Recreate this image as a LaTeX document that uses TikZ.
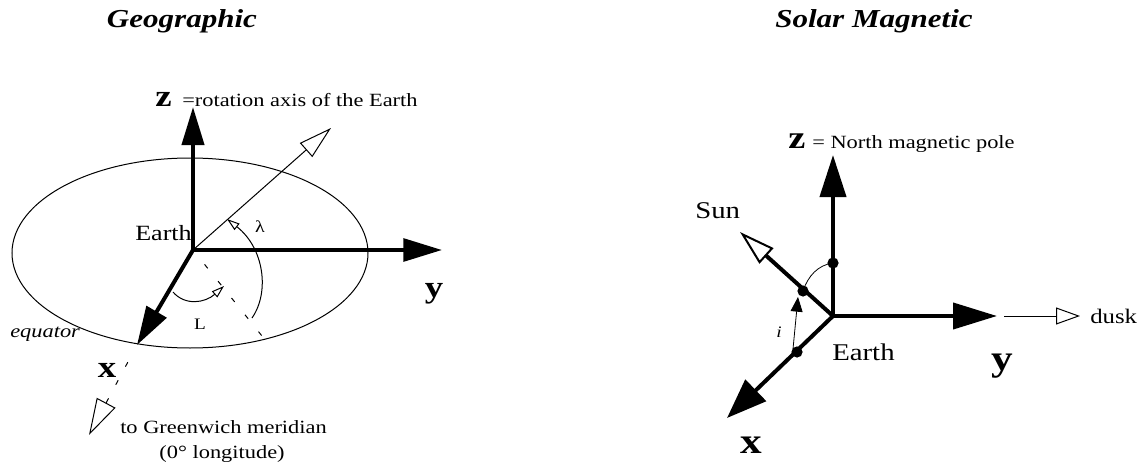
\documentclass[tikz,border=0pt]{standalone}
\usepackage{fontspec}
\setmainfont{Liberation Serif}[FakeStretch=1.2]
\usetikzlibrary{arrows.meta}
\begin{document}
\begin{tikzpicture}[x=0.75pt,y=-0.75pt,
  axisline/.style={line width=3pt},
  thinl/.style={line width=0.75pt},
  hairl/.style={line width=0.6pt},
  txt/.style={inner sep=0pt,font=\fontsize{14}{16}\selectfont},
  bigtxt/.style={inner sep=0pt,font=\fontsize{16.3}{18}\selectfont},
  rtxt/.style={inner sep=0pt,font=\fontsize{18}{20}\selectfont},
  titletxt/.style={inner sep=0pt,font=\fontsize{19.4}{22}\selectfont\bfseries\itshape},
  boldl/.style={inner sep=0pt,font=\fontsize{23}{25}\selectfont\bfseries},
  boldr/.style={inner sep=0pt,font=\fontsize{27}{29}\selectfont\bfseries},
  dotmark/.style={fill=black}
]
\useasboundingbox (0,0) rectangle (1143,467);
\fill[white] (0,0) rectangle (1143,467);

% titles
\node[titletxt,anchor=base] (t1) at (182,28) {Geographic};
\node[titletxt,anchor=base] (t2) at (874,28) {Solar Magnetic};

% ---------- Geographic ----------
\coordinate (O) at (193,250);
\coordinate (zt) at (193,107);
\coordinate (yt) at (442,250);
\coordinate (xt) at (137,345);
\coordinate (lt) at (331,128);
\coordinate (ec) at (190,253);

\draw[thinl] (ec) ellipse [x radius=133.5pt, y radius=71.25pt];
\draw[thinl,-{Triangle[open,length=25pt,width=14pt]}] (O) -- (lt);
\draw[axisline,-{Triangle[length=28.5pt,width=16.5pt]}] (O) -- (zt);
\draw[axisline,-{Triangle[length=29pt,width=17pt]}] (O) -- (yt);
\draw[axisline,-{Triangle[length=29pt,width=17pt]}] (O) -- (xt);

\coordinate (ms) at (204.6,264.4);
\coordinate (me) at (262,336);
\draw[thinl,dash pattern=on 3.75pt off 12.4pt] (ms) -- (me);

\coordinate (la) at (252,318);
\coordinate (lb) at (227,219);
\draw[thinl,-{Triangle[open,length=9.6pt,width=6pt]}] (la) .. controls (270,292) and (264,248) .. (lb);
\coordinate (La) at (173,292);
\coordinate (Lb) at (224,286);
\draw[thinl,-{Triangle[open,length=9.5pt,width=6pt]}] (La) .. controls (185,306) and (205,303) .. (Lb);

\coordinate (gs) at (127.8,362.2);
\coordinate (ge) at (89,435);
\draw[thinl,dash pattern=on 3.75pt off 11.6pt,-{Triangle[open,length=27.4pt,width=15.8pt]}] (gs) -- (ge);

\node[boldl,anchor=base west] (zl) at (155,107) {z};
\node[txt,anchor=base west] (zlt) at (182,107) {=rotation axis of the Earth};
\node[bigtxt,anchor=base east] (earthl) at (192,240) {Earth};
\node[inner sep=0pt,font=\fontsize{12.5}{14}\selectfont,anchor=base] (lam) at (260,232) {λ};
\node[inner sep=0pt,font=\fontsize{12}{14}\selectfont,anchor=base] (Ll) at (200,329) {L};
\node[txt,font=\fontsize{14}{16}\selectfont\itshape,anchor=base west] (eq) at (10,337) {equator};
\node[boldl,anchor=base] (yl) at (434,297) {y};
\node[boldl,anchor=base] (xl) at (107,377) {x};
\node[txt,anchor=base west] (gw) at (120,433) {to Greenwich meridian};
\node[txt,anchor=base] (lon) at (222,458) {(0° longitude)};

% ---------- Solar Magnetic ----------
\coordinate (P) at (833,316);
\coordinate (zt2) at (833,155);
\coordinate (yt2) at (997,316);
\coordinate (xt2) at (727,418);
\coordinate (st) at (740,232);
\coordinate (dz) at (833,263);
\coordinate (ds) at (803,291);
\coordinate (dx) at (797,352);

\draw[axisline,-{Triangle[length=31.5pt,width=19.5pt]}] (P) -- (zt2);
\draw[axisline,-{Triangle[length=33pt,width=19.5pt]}] (P) -- (yt2);
\draw[axisline,-{Triangle[length=30pt,width=22pt]}] (P) -- (xt2);
\draw[axisline,-{Triangle[open,length=26.8pt,width=15.5pt,line width=1.5pt]}] (P) -- (st);

\fill[dotmark] (dz) circle[radius=4.2pt];
\fill[dotmark] (ds) circle[radius=4.2pt];
\fill[dotmark] (dx) circle[radius=4.2pt];

\draw[hairl] (ds) .. controls (808,276) and (818,265) .. (dz);
\coordinate (ia) at (793,349);
\coordinate (ib) at (798,297);
\draw[hairl,-{Triangle[length=11pt,width=9pt]}] (ia) -- (ib);

\coordinate (dka) at (1004,316);
\coordinate (dkb) at (1080,316);
\draw[thinl,-{Triangle[open,length=18pt,width=12.75pt]}] (dka) -- (dkb);

\node[boldr,font=\fontsize{24}{26}\selectfont\bfseries,anchor=base west] (zr) at (788,148) {z};
\node[txt,anchor=base west] (zrt) at (812,148) {= North magnetic pole};
\node[rtxt,anchor=base west] (sun) at (695,218) {Sun};
\node[txt,font=\fontsize{15.5}{17}\selectfont,anchor=base west] (dusk) at (1090,323) {dusk};
\node[rtxt,anchor=base west] (earthr) at (832,360) {Earth};
\node[boldr,anchor=base] (yr) at (1002,370) {y};
\node[boldr,anchor=base] (xr) at (751,453) {x};
\node[inner sep=0pt,font=\fontsize{12}{14}\selectfont\itshape,anchor=base] (ir) at (779,337) {i};
\end{tikzpicture}
\end{document}
